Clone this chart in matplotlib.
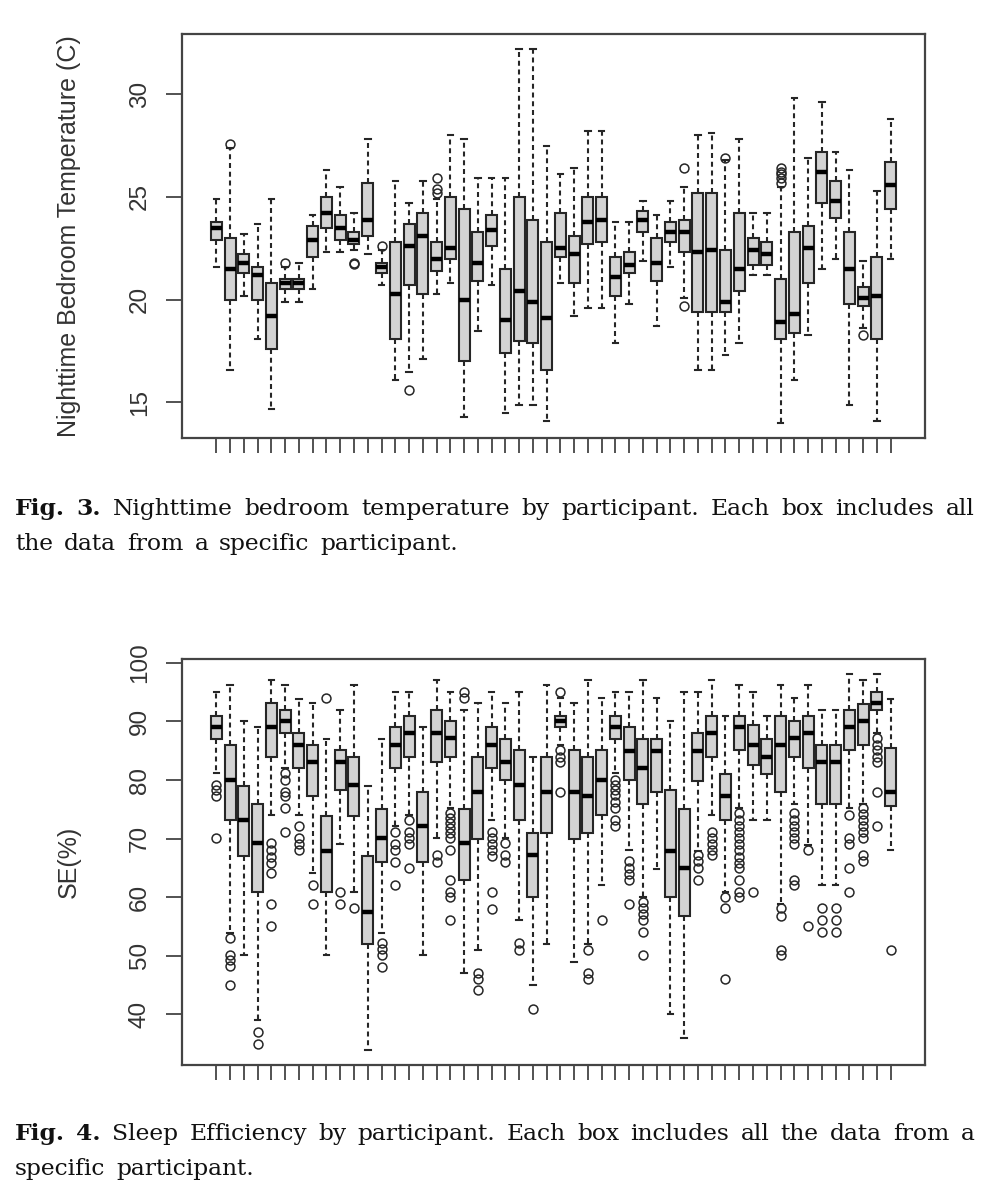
import matplotlib
matplotlib.use('Agg')
import matplotlib.pyplot as plt
import numpy as np

W, H = 989, 1200

# --- Fig. 3: nighttime bedroom temperature (C), one box per participant ---
temp_lo = [21.6, 16.6, 20.2, 18.1, 14.7, 19.9, 19.9, 20.5, 22.3, 22.3,
           22.4, 22.2, 20.7, 16.1, 16.5, 17.1, 20.3, 20.8, 14.3, 18.5,
           20.7, 14.5, 14.9, 14.9, 14.1, 20.8, 19.2, 19.6, 19.6, 17.9,
           19.8, 21.9, 18.7, 21.6, 20.1, 16.6, 16.6, 17.3, 17.9, 21.2,
           21.2, 14.0, 16.1, 18.3, 21.5, 22.0, 14.9, 18.6, 14.1, 22.0]
temp_q1 = [22.9, 20.0, 21.3, 20.0, 17.6, 20.5, 20.5, 22.1, 23.5, 22.9,
           22.7, 23.1, 21.3, 18.1, 20.7, 20.3, 21.4, 22.0, 17.0, 20.9,
           22.6, 17.4, 18.0, 17.9, 16.6, 22.1, 20.8, 22.7, 22.8, 20.2,
           21.3, 23.3, 20.9, 22.8, 22.3, 19.4, 19.4, 19.4, 20.4, 21.7,
           21.7, 18.1, 18.4, 20.8, 24.7, 24.0, 19.8, 19.7, 18.1, 24.4]
temp_med = [23.5, 21.5, 21.8, 21.2, 19.2, 20.8, 20.8, 22.9, 24.2, 23.5,
            22.9, 23.9, 21.6, 20.3, 22.6, 23.1, 22.0, 22.5, 20.0, 21.8,
            23.4, 19.0, 20.4, 19.9, 19.1, 22.5, 22.2, 23.8, 23.9, 21.1,
            21.7, 23.9, 21.8, 23.3, 23.3, 22.3, 22.4, 19.9, 21.5, 22.4,
            22.2, 18.9, 19.3, 22.5, 26.2, 24.8, 21.5, 20.1, 20.2, 25.6]
temp_q3 = [23.8, 23.0, 22.2, 21.6, 20.8, 21.0, 21.0, 23.6, 25.0, 24.1,
           23.3, 25.7, 21.8, 22.8, 23.7, 24.2, 22.8, 25.0, 24.4, 23.3,
           24.1, 21.5, 25.0, 23.9, 22.8, 24.2, 23.1, 25.0, 25.0, 22.1,
           22.3, 24.3, 23.0, 23.8, 23.9, 25.2, 25.2, 22.4, 24.2, 23.0,
           22.8, 21.0, 23.3, 23.6, 27.2, 25.8, 23.3, 20.6, 22.1, 26.7]
temp_hi = [24.9, 27.4, 23.2, 23.7, 24.9, 21.6, 21.8, 24.1, 26.3, 25.5,
           24.2, 27.8, 22.4, 25.8, 24.7, 25.8, 24.9, 28.0, 27.8, 25.9,
           25.9, 25.9, 32.2, 32.2, 27.5, 26.1, 26.4, 28.2, 28.2, 23.8,
           23.8, 24.8, 24.1, 24.8, 25.5, 28.0, 28.1, 26.8, 27.8, 24.2,
           24.2, 25.5, 29.8, 26.9, 29.6, 27.2, 26.3, 21.9, 25.3, 28.8]
temp_out = [[], [27.6], [], [], [], [21.8], [], [], [], [],
            [21.8, 21.75], [], [22.6], [], [15.6], [], [25.2, 25.4, 25.9], [], [], [],
            [], [], [], [], [], [], [], [], [], [],
            [], [], [], [], [26.4, 19.7], [], [], [26.9], [], [],
            [], [25.7, 25.9, 26.1, 26.2, 26.4], [], [], [], [], [], [18.3], [], []]

# --- Fig. 4: sleep efficiency (%), one box per participant ---
se_lo = [81.2, 53.9, 50.1, 39.0, 74.0, 82.0, 74.0, 64.1, 50.1, 69.1,
         60.8, 33.9, 53.9, 72.1, 74.0, 50.1, 70.1, 75.2, 47.0, 51.0,
         73.1, 70.1, 56.1, 45.0, 52.0, 86.0, 49.0, 52.0, 62.0, 81.2,
         68.1, 60.1, 64.8, 40.1, 35.9, 67.8, 74.0, 60.8, 75.2, 73.2,
         73.2, 58.9, 75.9, 68.9, 62.0, 62.0, 75.2, 75.9, 88.0, 68.1]
se_q1 = [87.0, 73.1, 67.0, 60.8, 84.0, 88.0, 82.0, 77.2, 60.8, 78.3,
         73.9, 52.0, 66.0, 82.0, 84.0, 66.0, 83.0, 84.0, 62.9, 69.9,
         82.0, 80.0, 73.1, 60.0, 71.0, 89.0, 69.9, 71.0, 74.0, 87.0,
         80.0, 75.9, 78.0, 60.0, 56.8, 79.9, 84.0, 73.1, 85.2, 82.6,
         81.1, 77.9, 84.0, 82.0, 75.9, 75.9, 85.2, 85.9, 92.0, 75.6]
se_med = [89.1, 80.0, 73.1, 69.2, 89.1, 90.0, 85.9, 83.0, 67.9, 83.0,
          79.2, 57.5, 70.1, 85.9, 88.0, 72.1, 88.0, 87.2, 69.2, 78.0,
          86.0, 83.0, 79.2, 67.2, 78.0, 90.0, 78.0, 77.2, 80.0, 89.0,
          85.0, 82.0, 85.0, 67.9, 64.9, 85.0, 88.0, 77.2, 89.1, 86.0,
          84.0, 86.0, 87.2, 88.0, 83.0, 83.0, 89.1, 90.0, 93.1, 77.9]
se_q3 = [91.0, 85.9, 79.0, 75.9, 93.1, 91.9, 88.0, 85.9, 73.9, 85.2,
         83.9, 67.0, 75.1, 89.0, 91.0, 78.0, 92.0, 90.0, 75.1, 83.9,
         89.0, 87.0, 85.2, 71.0, 83.9, 91.0, 85.2, 83.9, 85.2, 91.0,
         89.0, 87.0, 87.0, 78.3, 75.1, 88.0, 91.0, 81.1, 91.0, 89.4,
         87.0, 91.0, 90.0, 91.0, 85.9, 85.9, 91.9, 93.0, 95.1, 85.4]
se_hi = [95.0, 96.2, 90.0, 89.0, 97.1, 96.2, 93.9, 93.1, 87.0, 91.9,
         96.2, 79.0, 87.0, 95.0, 95.0, 89.0, 97.1, 95.0, 91.9, 93.1,
         95.0, 93.1, 95.0, 83.9, 96.2, 94.0, 93.1, 97.1, 94.0, 95.0,
         95.0, 97.1, 94.0, 90.0, 95.0, 95.0, 97.1, 91.0, 96.2, 95.0,
         91.0, 96.2, 94.0, 96.2, 91.9, 91.9, 98.1, 97.1, 98.1, 93.9]
se_out = [[79.2, 78.3, 77.2, 70.1],
          [53.0, 50.1, 49.3, 48.2, 45.0],
          [],
          [37.0, 35.0],
          [69.2, 68.1, 66.9, 65.9, 64.1, 58.8, 55.0],
          [81.2, 80.0, 78.0, 77.2, 75.2, 71.2],
          [72.1, 70.1, 69.1, 68.1],
          [62.1, 58.9],
          [94.0],
          [60.9, 58.9],
          [58.1],
          [],
          [52.1, 51.1, 50.1, 48.1],
          [71.2, 69.1, 68.1, 66.0, 62.1],
          [73.2, 71.2, 70.1, 69.1, 64.9],
          [],
          [67.2, 66.0],
          [74.3, 73.5, 72.6, 71.8, 70.9, 70.1, 68.1, 62.9, 60.9, 60.1, 56.1],
          [95.1, 94.0],
          [47.0, 46.1, 44.1],
          [71.2, 70.1, 69.1, 68.1, 67.1, 60.9, 58.0],
          [69.2, 67.2, 66.0],
          [52.1, 51.0],
          [40.9],
          [],
          [95.1, 85.2, 84.0, 83.0, 78.0],
          [],
          [51.0, 47.0, 46.1],
          [56.1],
          [80.0, 79.2, 78.3, 77.4, 76.3, 75.2, 73.2, 72.1],
          [66.1, 64.9, 64.0, 62.9, 58.9],
          [59.1, 58.1, 57.1, 56.1, 54.1, 50.1],
          [],
          [],
          [],
          [67.2, 66.1, 64.9, 62.9],
          [71.2, 70.1, 69.1, 68.1, 67.2],
          [60.1, 58.1, 46.1],
          [74.3, 73.2, 72.2, 71.2, 70.1, 69.1, 68.1, 66.9, 65.9, 64.9, 62.9, 60.9, 60.1],
          [60.9],
          [],
          [58.1, 56.8, 51.0, 50.1],
          [74.3, 73.2, 72.2, 71.2, 70.1, 69.1, 62.9, 62.1],
          [68.1, 55.0],
          [58.1, 56.1, 54.1],
          [58.1, 56.1, 54.1],
          [74.0, 70.1, 69.1, 64.9, 60.9],
          [75.2, 74.2, 73.2, 72.2, 71.2, 70.1, 67.2, 66.1],
          [87.2, 86.0, 85.2, 84.0, 83.0, 78.0, 72.1],
          [50.9]]

temp_ticks = [15, 20, 25, 30]
se_ticks = [40, 50, 60, 70, 80, 90, 100]

cap3 = ["Fig. 3. Nighttime bedroom temperature by participant. Each box includes all",
        "the data from a specific participant."]
cap4 = ["Fig. 4. Sleep Efficiency by participant. Each box includes all the data from a",
        "specific participant."]

EDGE = '#262626'
SERIF = 'DejaVu Serif'
WORD_GAP = 11  # px between words on a caption line


def draw_boxes(ax, lo, q1, med, q3, hi, out, yticks, ylabel):
    n = len(med)
    stats = []
    for i in range(n):
        stats.append(dict(whislo=lo[i], q1=q1[i], med=med[i], q3=q3[i],
                          whishi=hi[i], fliers=out[i]))
    ax.bxp(stats, positions=np.arange(1, n + 1), widths=0.8, capwidths=0.4,
           patch_artist=True, manage_ticks=False,
           boxprops=dict(facecolor='#d3d3d3', edgecolor=EDGE, linewidth=1.5),
           medianprops=dict(color='black', linewidth=3.2, solid_capstyle='butt'),
           whiskerprops=dict(color=EDGE, linewidth=1.5, linestyle=(0, (2.4, 1.8))),
           capprops=dict(color=EDGE, linewidth=1.5),
           flierprops=dict(marker='o', markerfacecolor='none', markeredgecolor=EDGE,
                           markersize=6.4, markeredgewidth=1.1, linestyle='none'))
    # R-style 4% padding around the data range
    allv = list(lo) + list(hi) + [v for o in out for v in o]
    vmin, vmax = min(allv), max(allv)
    pad = 0.04 * (vmax - vmin)
    ax.set_ylim(vmin - pad, vmax + pad)
    ax.set_xlim(0.5 - 0.04 * n, n + 0.5 + 0.04 * n)
    ax.set_xticks(np.arange(1, n + 1))
    ax.set_xticklabels([])
    ax.set_yticks(yticks)
    ax.set_yticklabels([str(t) for t in yticks], rotation=90, va='center',
                       fontsize=17.5, family='Liberation Sans', color='#333333')
    ax.tick_params(axis='x', length=11, width=1.3, color='#444444', direction='out')
    ax.tick_params(axis='y', length=11.5, width=1.3, color='#444444', direction='out', pad=11)
    for s in ax.spines.values():
        s.set_color('#444444')
        s.set_linewidth(1.6)
    ax.set_ylabel(ylabel, fontsize=18, family='Liberation Sans', color='#333333')
    ax.yaxis.label.set_va('center')
    ax.yaxis.set_label_coords((69 - 182) / 743, 0.5)


def word_texts(fig, text, y, size):
    words = text.split(' ')
    texts = []
    for k, w in enumerate(words):
        bold = text.startswith('Fig.') and k < 2
        texts.append(fig.text(0, 1 - y / H, w, fontsize=size, family=SERIF,
                              weight='bold' if bold else 'normal',
                              va='baseline', ha='left', color='#111111'))
    return texts


def fit_caption_size(fig, text, x0=15, x1=975):
    # font size so that the words plus normal gaps fill the line
    r = fig.canvas.get_renderer()
    probe = word_texts(fig, text, 0, 10)
    total = sum(t.get_window_extent(r).width for t in probe)
    for t in probe:
        t.remove()
    target = (x1 - x0) - WORD_GAP * (len(probe) - 1)
    return 10 * target / total


def caption_line(fig, text, y, size, x0=15, x1=975, justify=True):
    r = fig.canvas.get_renderer()
    texts = word_texts(fig, text, y, size)
    widths = [t.get_window_extent(r).width for t in texts]
    if justify:
        gap = (x1 - x0 - sum(widths)) / (len(texts) - 1)
    else:
        gap = WORD_GAP
    x = x0
    for t, wd in zip(texts, widths):
        t.set_x(x / W)
        x += wd + gap


fig = plt.figure(figsize=(W / 100, H / 100), dpi=100)
ax1 = fig.add_axes([182 / W, 1 - 438 / H, 743 / W, 404 / H])
ax2 = fig.add_axes([182 / W, 1 - 1065 / H, 743 / W, 406 / H])

draw_boxes(ax1, temp_lo, temp_q1, temp_med, temp_q3, temp_hi, temp_out,
           temp_ticks, 'Nighttime Bedroom Temperature (C)')
draw_boxes(ax2, se_lo, se_q1, se_med, se_q3, se_hi, se_out,
           se_ticks, 'SE(%)')

csize = fit_caption_size(fig, cap3[0])
caption_line(fig, cap3[0], 515, csize)
caption_line(fig, cap3[1], 550, csize, justify=False)
caption_line(fig, cap4[0], 1140, csize)
caption_line(fig, cap4[1], 1175, csize, justify=False)

fig.savefig('out.png', dpi=100)
